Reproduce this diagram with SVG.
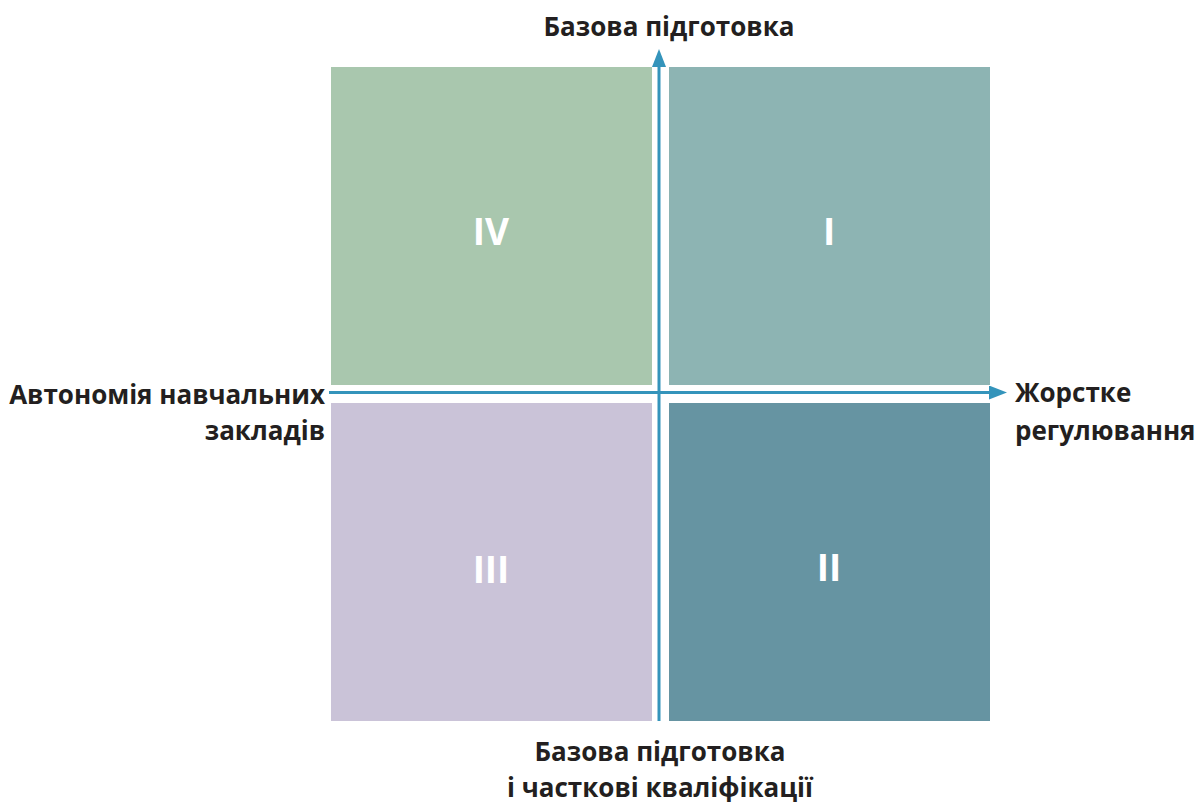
<svg xmlns="http://www.w3.org/2000/svg" width="1197" height="802" viewBox="0 0 1197 802">
<style>
.lbl{font-family:"Open Sans","Liberation Sans",sans-serif;font-weight:bold;font-size:26px;fill:#231f20}
.num{font-family:"Open Sans","Liberation Sans",sans-serif;font-weight:bold;font-size:37px;fill:#ffffff;text-anchor:middle}
.ax{stroke:#3494bb;stroke-width:3;fill:none}
</style>
<defs>
<marker id="ah" markerUnits="userSpaceOnUse" markerWidth="18" markerHeight="14" refX="0" refY="7" orient="auto" viewBox="0 0 18 14">
<path d="M0,0 L18,7 L0,14 Z" fill="#3494bb"/>
</marker>
</defs>
<rect width="1197" height="802" fill="#ffffff"/>
<g id="q4"><rect x="331" y="67" width="321" height="318" fill="#a9c7ae"/><text class="num" x="491" y="245">IV</text></g>
<g id="q1"><rect x="669" y="67" width="321" height="318" fill="#8db4b3"/><text class="num" x="829" y="245">I</text></g>
<g id="q3"><rect x="331" y="403" width="321" height="318" fill="#cac3d8"/><text class="num" x="491" y="583">III</text></g>
<g id="q2"><rect x="669" y="403" width="321" height="318" fill="#6694a2"/><text class="num" x="829" y="581">II</text></g>
<g id="connectors">
<line class="ax" x1="659" y1="721" x2="659" y2="67" marker-end="url(#ah)"/>
<line class="ax" x1="329" y1="392.5" x2="989" y2="392.5" marker-end="url(#ah)"/>
</g>
<g id="labels">
<text class="lbl" x="669" y="36" text-anchor="middle">Базова підготовка</text>
<text class="lbl" x="325" y="404" text-anchor="end">Автономія навчальних</text>
<text class="lbl" x="325" y="440" text-anchor="end">закладів</text>
<text class="lbl" x="1015" y="402">Жорстке</text>
<text class="lbl" x="1015" y="440">регулювання</text>
<text class="lbl" x="660" y="761" text-anchor="middle">Базова підготовка</text>
<text class="lbl" x="660" y="797" text-anchor="middle">і часткові кваліфікації</text>
</g>
</svg>
